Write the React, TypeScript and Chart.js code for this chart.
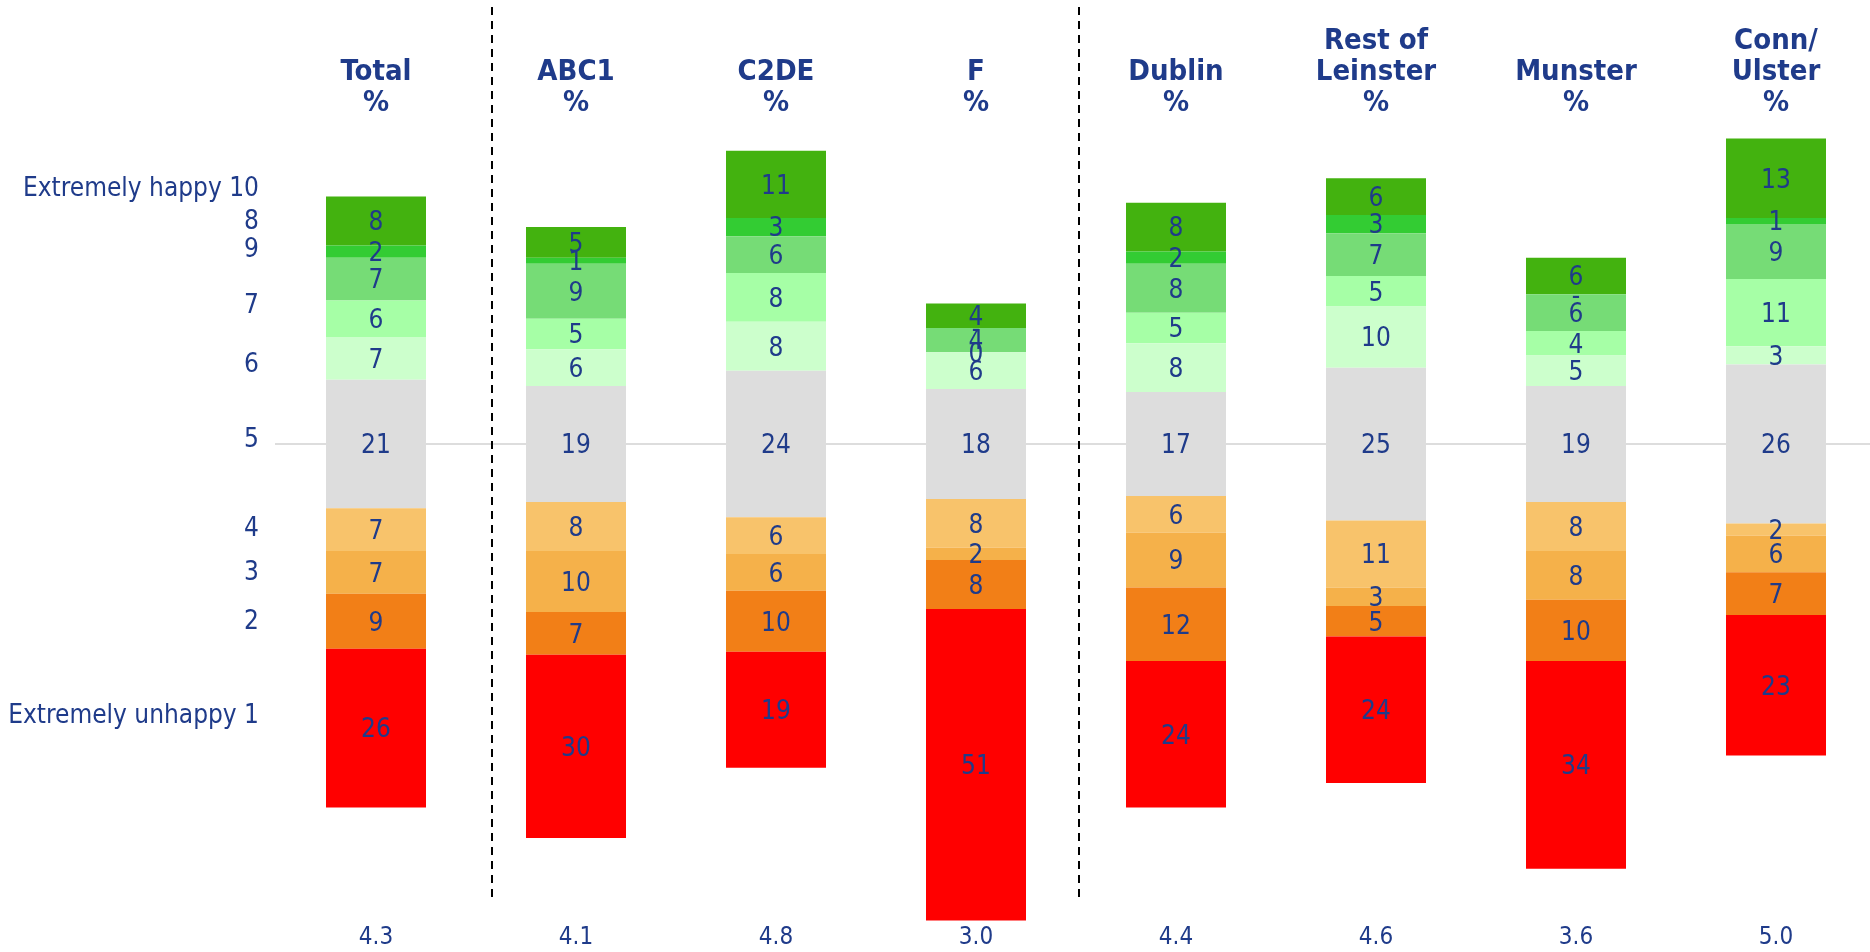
import React, { useEffect, useRef } from 'react';
import { Chart, registerables } from 'chart.js';

Chart.register(...registerables);

// ---------- data ----------
const categories = ['Total', 'ABC1', 'C2DE', 'F', 'Dublin', 'Rest of Leinster', 'Munster', 'Conn/Ulster'];
const headerLines = [
  ['Total', '%'],
  ['ABC1', '%'],
  ['C2DE', '%'],
  ['F', '%'],
  ['Dublin', '%'],
  ['Rest of', 'Leinster', '%'],
  ['Munster', '%'],
  ['Conn/', 'Ulster', '%'],
];
const meanScores = ['4.3', '4.1', '4.8', '3.0', '4.4', '4.6', '3.6', '5.0'];

// % giving each score (null = "-")
const score10 = [8, 5, 11, 4, 8, 6, 6, 13];
const score9 = [2, 1, 3, null, 2, 3, null, 1];
const score8 = [7, 9, 6, 4, 8, 7, 6, 9];
const score7 = [6, 5, 8, 0, 5, 5, 4, 11];
const score6 = [7, 6, 8, 6, 8, 10, 5, 3];
const score5 = [21, 19, 24, 18, 17, 25, 19, 26];
const score4 = [7, 8, 6, 8, 6, 11, 8, 2];
const score3 = [7, 10, 6, 2, 9, 3, 8, 6];
const score2 = [9, 7, 10, 8, 12, 5, 10, 7];
const score1 = [26, 30, 19, 51, 24, 24, 34, 23];

// scale labels on the left and where they sit (in % units from the neutral line)
const scaleLabels = ['Extremely happy 10', '8', '9', '7', '6', '5', '4', '3', '2', 'Extremely unhappy 1'];
const scaleLabelValues = [42.2, 36.7, 32.1, 22.9, 13.3, 1.0, -13.6, -20.8, -28.8, -44.2];

// group dividers (category index positions)
const dividerPositions = [0.58, 3.515];

// ---------- styles ----------
const TEXT = '#1F3B8A';
const FONT = '"DejaVu Sans Condensed", "DejaVu Sans", sans-serif';
const colors = {
  s1: '#FF0000',
  s2: '#F27F17',
  s3: '#F5B14A',
  s4: '#F8C36B',
  s5: '#DDDDDD',
  s6: '#CCFFCC',
  s7: '#A6FFA6',
  s8: '#76DC76',
  s9: '#33CC33',
  s10: '#43B20F',
};

type V = number | null;
const num = (v: V) => (v === null ? 0 : v);

function buildRanges() {
  const pos: V[][] = [score6, score7, score8, score9, score10];
  const neg: V[][] = [score4, score3, score2, score1];
  const out: Record<string, [number, number][]> = {};
  const keysPos = ['s6', 's7', 's8', 's9', 's10'];
  const keysNeg = ['s4', 's3', 's2', 's1'];
  out.s5 = score5.map((g) => [-g / 2, g / 2]);
  keysPos.forEach((k) => (out[k] = []));
  keysNeg.forEach((k) => (out[k] = []));
  categories.forEach((_, i) => {
    let top = score5[i] / 2;
    pos.forEach((arr, j) => {
      const v = num(arr[i]);
      out[keysPos[j]].push([top, top + v]);
      top += v;
    });
    let bot = -score5[i] / 2;
    neg.forEach((arr, j) => {
      const v = num(arr[i]);
      out[keysNeg[j]].push([bot - v, bot]);
      bot -= v;
    });
  });
  return out;
}

const PX_PER_UNIT = 6.11;
const ZERO_PX = 444;
const H = 952;
const W = 1870;
const CANVAS_W = 1880;

export default function App() {
  const ref = useRef<HTMLCanvasElement>(null);

  useEffect(() => {
    document.body.style.margin = '0';
    const ranges = buildRanges();
    const seriesDefs: { key: string; values: V[] }[] = [
      { key: 's1', values: score1 },
      { key: 's2', values: score2 },
      { key: 's3', values: score3 },
      { key: 's4', values: score4 },
      { key: 's5', values: score5 },
      { key: 's6', values: score6 },
      { key: 's7', values: score7 },
      { key: 's8', values: score8 },
      { key: 's9', values: score9 },
      { key: 's10', values: score10 },
    ];

    const overlay = {
      id: 'overlay',
      beforeDatasetsDraw(chart: any) {
        const { ctx, chartArea } = chart;
        const y = chart.scales.y;
        const y0 = y.getPixelForValue(0);
        ctx.save();
        ctx.strokeStyle = '#DDDDDD';
        ctx.lineWidth = 2;
        ctx.beginPath();
        ctx.moveTo(chartArea.left - 1, y0);
        ctx.lineTo(chart.width, y0);
        ctx.stroke();
        ctx.restore();
      },
      afterDatasetsDraw(chart: any) {
        const { ctx } = chart;
        const x = chart.scales.x;
        const y = chart.scales.y;
        const step = x.getPixelForValue(1) - x.getPixelForValue(0);
        ctx.save();

        // segment labels
        const fs = 26;
        ctx.font = `${fs}px ${FONT}`;
        ctx.fillStyle = TEXT;
        ctx.textAlign = 'center';
        ctx.textBaseline = 'alphabetic';
        seriesDefs.forEach((s, di) => {
          const meta = chart.getDatasetMeta(di);
          meta.data.forEach((el: any, i: number) => {
            const raw = s.values[i];
            const label = raw === null ? '-' : String(raw);
            const [a, b] = ranges[s.key][i];
            const yc = y.getPixelForValue((a + b) / 2);
            ctx.fillText(label, el.x, yc + fs * 0.36);
          });
        });

        // left scale labels
        ctx.textAlign = 'right';
        scaleLabels.forEach((t, i) => {
          const yc = y.getPixelForValue(scaleLabelValues[i]);
          ctx.fillText(t, 259, yc + fs * 0.36);
        });

        // headers
        const hf = 29;
        ctx.font = `bold ${hf}px ${FONT}`;
        ctx.textAlign = 'center';
        headerLines.forEach((lines, i) => {
          const cx = x.getPixelForValue(i);
          const n = lines.length;
          lines.forEach((t, j) => {
            ctx.fillText(t, cx, 111 - (n - 1 - j) * 31);
          });
        });

        // mean scores
        ctx.font = `24px ${FONT}`;
        meanScores.forEach((t, i) => {
          ctx.fillText(t, x.getPixelForValue(i), 944);
        });

        // dividers
        ctx.strokeStyle = '#000000';
        ctx.lineWidth = 2;
        ctx.setLineDash([8, 6]);
        dividerPositions.forEach((p) => {
          const px = Math.round(x.getPixelForValue(0) + p * step);
          ctx.beginPath();
          ctx.moveTo(px, 7);
          ctx.lineTo(px, 897);
          ctx.stroke();
        });
        ctx.restore();
      },
    };

    const chart = new Chart(ref.current!, {
      type: 'bar',
      data: {
        labels: categories,
        datasets: seriesDefs.map((s) => ({
          label: s.key,
          data: ranges[s.key] as any,
          backgroundColor: (colors as any)[s.key],
          borderWidth: 0,
          categoryPercentage: 1,
          barPercentage: 0.5,
        })),
      },
      options: {
        responsive: false,
        animation: false,
        devicePixelRatio: 1,
        layout: { padding: { left: 276, right: CANVAS_W - 1876, top: 0, bottom: 0 } },
        plugins: { legend: { display: false }, tooltip: { enabled: false } },
        scales: {
          x: { display: false, stacked: true },
          y: {
            display: false,
            stacked: false,
            min: -(H - ZERO_PX) / PX_PER_UNIT,
            max: ZERO_PX / PX_PER_UNIT,
          },
        },
      },
      plugins: [overlay],
    });
    return () => chart.destroy();
  }, []);

  return (
    <div style={{ position: 'absolute', left: 0, top: 0, width: W, height: H, overflow: 'hidden' }}>
      <canvas ref={ref} width={CANVAS_W} height={H} style={{ display: 'block' }} />
    </div>
  );
}
